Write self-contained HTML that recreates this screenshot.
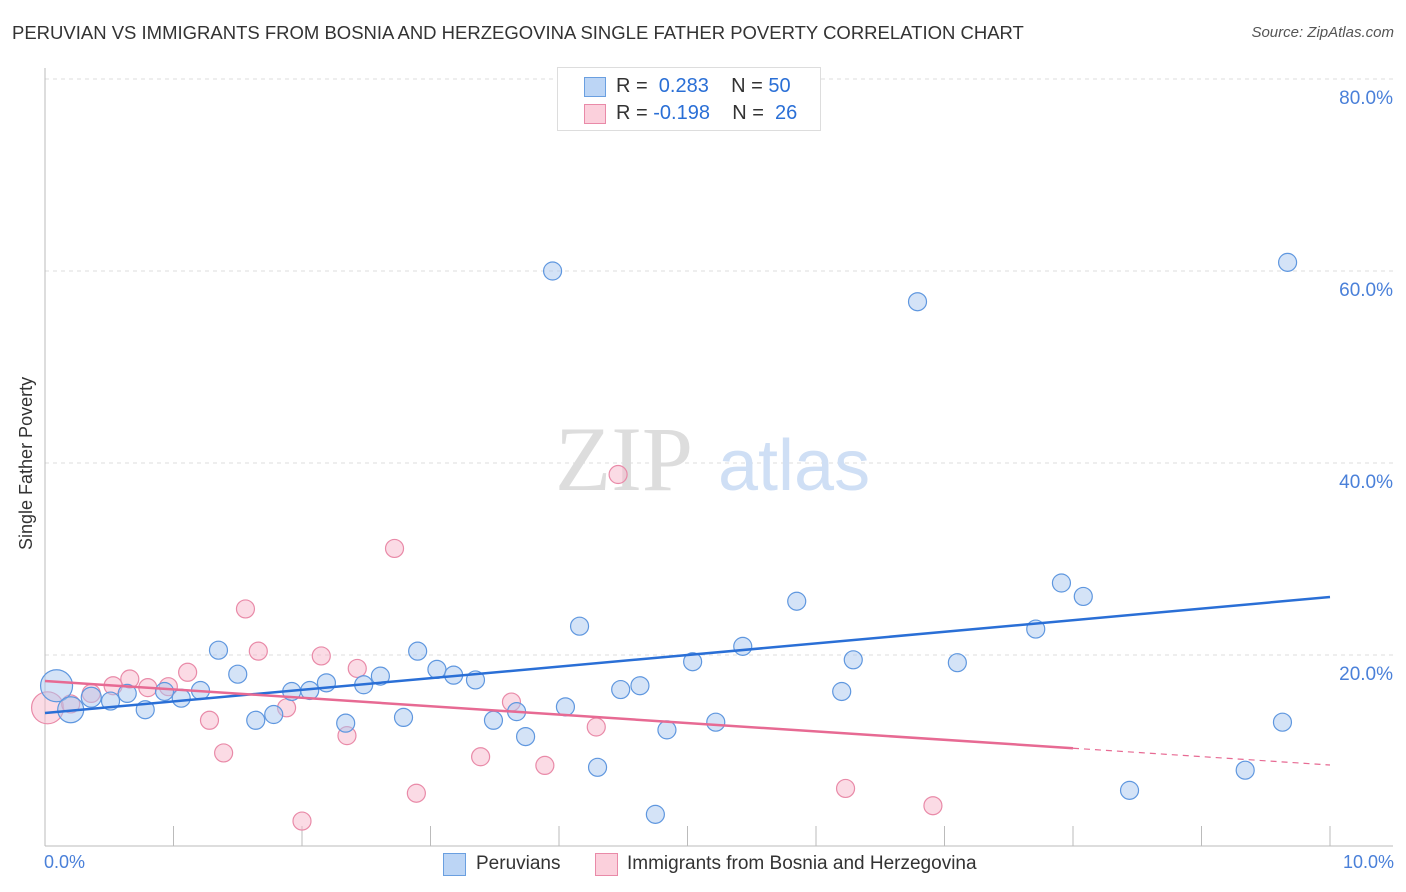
<!DOCTYPE html>
<html><head><meta charset="utf-8"><style>
body{margin:0;background:#fff;font-family:"Liberation Sans",sans-serif;}
#wrap{position:relative;width:1406px;height:892px;overflow:hidden;}
.t{position:absolute;white-space:nowrap;}
</style></head><body>
<div id="wrap">
<div class="t" style="left:12px;top:22px;font-size:18.5px;color:#333;">PERUVIAN VS IMMIGRANTS FROM BOSNIA AND HERZEGOVINA SINGLE FATHER POVERTY CORRELATION CHART</div>
<div class="t" style="right:12px;top:24px;font-size:15px;color:#555;font-style:italic;">Source: ZipAtlas.com</div>
<svg id="svg" width="1406" height="892" style="position:absolute;left:0;top:0"></svg>
</div>
<script>
const blueX=[0.09,0.2,0.36,0.51,0.64,0.78,0.93,1.06,1.21,1.35,1.5,1.64,1.78,1.92,2.06,2.19,2.34,2.48,2.61,2.79,2.9,3.05,3.18,3.35,3.49,3.67,3.74,3.95,4.05,4.16,4.3,4.48,4.63,4.75,4.84,5.04,5.22,5.43,5.85,6.2,6.29,6.79,7.1,7.71,7.91,8.08,8.44,9.34,9.63,9.67];
const blueY=[16.8,14.3,15.6,15.2,16.0,14.3,16.2,15.5,16.3,20.5,18.0,13.2,13.8,16.2,16.3,17.1,12.9,16.9,17.8,13.5,20.4,18.5,17.9,17.4,13.2,14.1,11.5,60.0,14.6,23.0,8.3,16.4,16.8,3.4,12.2,19.3,13.0,20.9,25.6,16.2,19.5,56.8,19.2,22.7,27.5,26.1,5.9,8.0,13.0,60.9];
const blueR=[16,13,10,9,9,9,9,9,9,9,9,9,9,9,9,9,9,9,9,9,9,9,9,9,9,9,9,9,9,9,9,9,9,9,9,9,9,9,9,9,9,9,9,9,9,9,9,9,9,9];
const pinkX=[0.02,0.2,0.36,0.53,0.66,0.8,0.96,1.11,1.28,1.39,1.56,1.66,1.88,2.0,2.15,2.35,2.43,2.72,2.89,3.39,3.63,3.89,4.29,4.46,6.23,6.91];
const pinkY=[14.5,14.9,16.0,16.8,17.5,16.6,16.7,18.2,13.2,9.8,24.8,20.4,14.5,2.7,19.9,11.6,18.6,31.1,5.6,9.4,15.1,8.5,12.5,38.8,6.1,4.3];
const pinkR=[16,9,9,9,9,9,9,9,9,9,9,9,9,9,9,9,9,9,9,9,9,9,9,9,9,9];
const yTicks=[20,40,60,80];
const yTickLabels=["20.0%","40.0%","60.0%","80.0%"];
const blueTrend=[13.96,26.04];
const pinkTrend=[17.29,8.54];
const pinkSolidEnd=8.0;
const X=v=>45+v/10*1285, Y=v=>847-v/20*192;
const svg=document.getElementById('svg');const NS='http://www.w3.org/2000/svg';
function mk(t,a,p){const e=document.createElementNS(NS,t);for(const k in a)e.setAttribute(k,a[k]);(p||svg).appendChild(e);return e;}
yTicks.forEach((v,i)=>{
 const g=mk('line',{x1:45,x2:1393,y1:Y(v),y2:Y(v),stroke:'#ddd','stroke-dasharray':'4,4'});
 
 
 const t=mk('text',{x:1393,y:Y(v)+25,'text-anchor':'end','font-size':19,fill:'#4a80d9','font-family':'Liberation Sans'});
 t.textContent=yTickLabels[i];
 
 
});
mk('line',{x1:45,x2:45,y1:68,y2:846,stroke:'#bbb'});
mk('line',{x1:45,x2:1393,y1:846,y2:846,stroke:'#bbb'});
for(let i=1;i<=10;i++){mk('line',{x1:X(i),x2:X(i),y1:826,y2:846,stroke:'#bbb'});}
const w=mk('text',{x:555,y:490,'font-size':92,fill:'#ddd','font-family':'Liberation Serif'});w.textContent='ZIP';


const w2=mk('text',{x:718,y:490,'font-size':72,fill:'#cfdff5','font-family':'Liberation Sans'});w2.textContent='atlas';
function pts(xs,ys,rs,fill,stroke,name){xs.forEach((x,i)=>{
 const c=mk('circle',{cx:X(x),cy:Y(ys[i]),r:rs[i],fill:fill,'fill-opacity':0.5,stroke:stroke,'stroke-width':1.2});
 
 
});}
pts(pinkX,pinkY,pinkR,'#f7b8cb','#e98aa8','point-bosnia');
pts(blueX,blueY,blueR,'#a9c8f0','#5f97df','point-peruvian');
const bl=mk('line',{x1:X(0),y1:Y(blueTrend[0]),x2:X(10),y2:Y(blueTrend[1]),stroke:'#2a6fd6','stroke-width':2.5});


const pe=pinkTrend[0]+(pinkTrend[1]-pinkTrend[0])*pinkSolidEnd/10;
const pl=mk('line',{x1:X(0),y1:Y(pinkTrend[0]),x2:X(pinkSolidEnd),y2:Y(pe),stroke:'#e76a93','stroke-width':2.5});


mk('line',{x1:X(pinkSolidEnd),y1:Y(pe),x2:X(10),y2:Y(pinkTrend[1]),stroke:'#e76a93','stroke-width':1.2,'stroke-dasharray':'6,5'});
</script>
<div class="t" style="left:44px;top:852px;font-size:18px;color:#4a80d9;">0.0%</div>
<div class="t" style="right:12px;top:852px;font-size:18px;color:#4a80d9;">10.0%</div>
<div class="t" style="left:16px;top:550px;font-size:18px;color:#333;transform:rotate(-90deg);transform-origin:0 0;">Single Father Poverty</div>
<div style="position:absolute;left:557px;top:67px;width:262px;height:62px;border:1px solid #ddd;background:#fff;font-size:20px;color:#333;">
 <div style="position:absolute;left:26px;top:9px;width:20px;height:18px;background:#bcd5f5;border:1px solid #6a9fe0;"></div>
 <div class="t" style="left:58px;top:7px;">R = <span style="color:#2a6fd6">&nbsp;0.283</span>&nbsp;&nbsp;&nbsp;&nbsp;N = <span style="color:#2a6fd6">50</span></div>
 <div style="position:absolute;left:26px;top:36px;width:20px;height:18px;background:#fbd0dc;border:1px solid #e98aa8;"></div>
 <div class="t" style="left:58px;top:34px;">R = <span style="color:#2a6fd6">-0.198</span>&nbsp;&nbsp;&nbsp;&nbsp;N = <span style="color:#2a6fd6">&nbsp;26</span></div>
</div>
<div style="position:absolute;left:443px;top:853px;width:21px;height:21px;background:#bcd5f5;border:1px solid #6a9fe0;"></div>
<div class="t" style="left:476px;top:853px;font-size:19px;color:#333;">Peruvians</div>
<div style="position:absolute;left:595px;top:853px;width:21px;height:21px;background:#fbd0dc;border:1px solid #e98aa8;"></div>
<div class="t" style="left:627px;top:853px;font-size:19px;color:#333;">Immigrants from Bosnia and Herzegovina</div>
</body></html>
